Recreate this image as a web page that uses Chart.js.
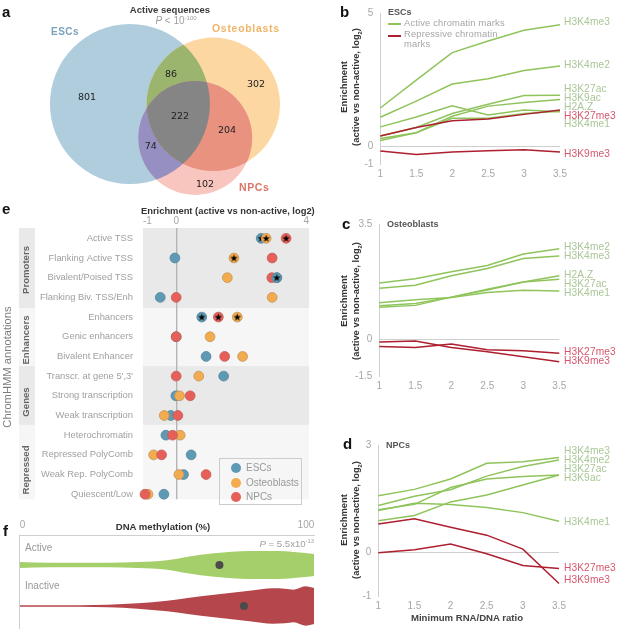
<!DOCTYPE html>
<html>
<head>
<meta charset="utf-8">
<title>Active sequences and chromatin enrichment</title>
<script src="https://cdn.jsdelivr.net/npm/chart.js@4"></script>
<style>
  html, body { margin: 0; padding: 0; background: #fff; }
  body { position: relative; width: 617px; height: 630px; overflow: hidden; font-family: "Liberation Sans", sans-serif; }
  canvas { position: absolute; }
  .lbl { position: absolute; white-space: nowrap; line-height: 1; }
  sup, sub { font-size: 60%; line-height: 0; }
  .legend-e { position: absolute; left: 219px; top: 458px; width: 83px; height: 47px; border: 1px solid #ccc; box-sizing: border-box; }
</style>
</head>
<body>
<script>
// ---- data: venn (a)
const vennSets = ['ESCs', 'Osteoblasts', 'NPCs'];
const vennX = [40.6, 66.65, 61.0];
const vennY = [32.5, 32.6, 43.1];
const vennR = [25.0, 20.85, 17.8];
const vennCounts = ['801', '86', '302', '222', '204', '74', '102'];

// ---- data: line panels (b, c, d)
const ratioLabels = ['1', '1.5', '2', '2.5', '3', '3.5'];

const escK4me3 = [1.43, 2.48, 3.51, 3.95, 4.35, 4.56];
const escK4me2 = [1.08, 1.69, 2.33, 2.53, 2.84, 3.01];
const escK27ac = [0.38, 0.70, 1.22, 1.57, 1.90, 1.91];
const escK9ac = [0.28, 0.50, 1.12, 1.50, 1.64, 1.75];
const escH2AZ = [0.72, 1.09, 1.51, 1.17, 1.35, 1.29];
const escK4me1 = [0.21, 0.50, 1.04, 1.04, 1.22, 1.31];
const escK27me3 = [0.38, 0.70, 0.95, 1.02, 1.19, 1.35];
const escK9me3 = [-0.19, -0.32, -0.22, -0.18, -0.14, -0.22];

const ostK4me2 = [1.71, 1.84, 2.05, 2.24, 2.59, 2.75];
const ostK4me3 = [1.55, 1.64, 1.93, 2.15, 2.45, 2.53];
const ostH2AZ = [1.02, 1.09, 1.28, 1.52, 1.74, 1.93];
const ostK27ac = [0.97, 1.03, 1.28, 1.50, 1.74, 1.82];
const ostK4me1 = [1.11, 1.20, 1.27, 1.42, 1.49, 1.47];
const ostK27me3 = [-0.22, -0.25, -0.14, -0.32, -0.35, -0.42];
const ostK9me3 = [-0.08, -0.05, -0.25, -0.38, -0.53, -0.68];

const npcK4me3 = [1.58, 1.76, 2.05, 2.49, 2.53, 2.65];
const npcK4me2 = [1.31, 1.57, 1.75, 2.13, 2.40, 2.58];
const npcK27ac = [1.19, 1.34, 1.81, 2.05, 2.12, 2.16];
const npcK9ac = [0.88, 1.03, 1.41, 1.60, 1.88, 2.16];
const npcK4me1 = [1.17, 1.37, 1.34, 1.25, 1.11, 0.87];
const npcK27me3 = [-0.01, 0.07, 0.23, -0.04, -0.37, -0.45];
const npcK9me3 = [0.79, 0.94, 0.70, 0.48, 0.09, -0.87];

// ---- data: ChromHMM dots (e), one value per row
const rowLabels = ['Active TSS', 'Flanking Active TSS', 'Bivalent/Poised TSS', 'Flanking Biv. TSS/Enh',
  'Enhancers', 'Genic enhancers', 'Bivalent Enhancer', "Transcr. at gene 5',3'", 'Strong transcription',
  'Weak transcription', 'Heterochromatin', 'Repressed PolyComb', 'Weak Rep. PolyComb', 'Quiescent/Low'];
const escEnrich = [2.56, -0.04, 3.03, -0.48, 0.77, 0, 0.90, 1.43, -0.01, -0.16, -0.31, 0.45, 0.22, -0.37];
const ostEnrich = [2.71, 1.74, 1.54, 2.89, 1.84, 1.02, 2.00, 0.68, 0.10, -0.36, 0.12, -0.68, 0.08, -0.85];
const npcEnrich = [3.31, 2.89, 2.88, 0, 1.27, 0, 1.46, 0, 0.42, 0.05, -0.11, -0.44, 0.90, -0.94];
const escStarRows = [0, 4];
const ostStarRows = [0, 1, 4];
const npcStarRows = [0, 4];
const escTopRows = [2];
const enrichTicks = [-1, 0, 4];

// ---- data: DNA methylation violins (f)
const methylPct = [0, 10, 20, 30, 40, 50, 57, 66, 78, 86, 90, 93, 97, 100];
const activeHalf = [3, 2.3, 2.2, 2.3, 3, 4.7, 8.3, 11.7, 14, 14, 13.7, 13, 12, 11];
const inactiveHalf = [0.7, 0.7, 0.8, 1.3, 2.7, 5.3, 8, 11.3, 15.3, 17.7, 17.3, 16.3, 19.7, 18];
const activeMean = 67.8;
const inactiveMean = 76.1;

// ---- colours
const GREEN = '#8fc45c';
const RED = '#ae1f30';
const GREEN_TXT = '#a9c696';
const RED_TXT = '#d5566c';
const TICK = '#a6a6a6';
const AXIS = '#cfcfcf';
const FONT = '"Liberation Sans", sans-serif';

Chart.defaults.font.family = FONT;
Chart.defaults.animation = false;
Chart.defaults.responsive = false;
Chart.defaults.layout.autoPadding = false;
Chart.defaults.plugins.legend.display = false;
Chart.defaults.plugins.tooltip.enabled = false;

function addCanvas(left, top, w, h) {
  const c = document.createElement('canvas');
  c.width = w;
  c.height = h;
  c.style.left = left + 'px';
  c.style.top = top + 'px';
  c.style.width = w + 'px';
  c.style.height = h + 'px';
  document.body.appendChild(c);
  return c;
}

// text helper, x/y is the anchor point
function label(html, x, y, o = {}) {
  const d = document.createElement('div');
  d.className = 'lbl';
  d.innerHTML = html;
  d.style.left = x + 'px';
  d.style.top = y + 'px';
  d.style.fontSize = (o.size || 10) + 'px';
  d.style.color = o.color || '#444';
  if (o.bold) d.style.fontWeight = 'bold';
  if (o.family) d.style.fontFamily = o.family;
  if (o.spacing) d.style.letterSpacing = o.spacing + 'px';
  const ax = o.align === 'center' ? '-50%' : o.align === 'right' ? '-100%' : '0';
  d.style.transform = `translate(${ax},-50%)` + (o.rotate ? ' rotate(-90deg)' : '');
  d.style.zIndex = 5;
  document.body.appendChild(d);
  return d;
}

// ---- panel a
const regionColors = [
  { sets: [0, 1], color: '#9bb56f' },
  { sets: [0, 2], color: '#9590c1' },
  { sets: [1, 2], color: '#e8927f' },
  { sets: [0, 1, 2], color: '#858585' }
];
const vennOverlaps = {
  id: 'vennOverlaps',
  afterDatasetsDraw(chart) {
    const ctx = chart.ctx;
    const pts = chart.getDatasetMeta(0).data;
    regionColors.forEach(reg => {
      ctx.save();
      reg.sets.forEach(i => {
        ctx.beginPath();
        ctx.arc(pts[i].x, pts[i].y, pts[i].options.radius, 0, Math.PI * 2);
        ctx.clip();
      });
      ctx.fillStyle = reg.color;
      ctx.fillRect(0, 0, chart.width, chart.height);
      ctx.restore();
    });
  }
};
new Chart(addCanvas(0, 0, 320, 200), {
  type: 'bubble',
  data: {
    datasets: [{
      label: 'Active sequences',
      data: vennSets.map((s, i) => ({ x: vennX[i], y: vennY[i], r: vennR[i] * 3.2 })),
      backgroundColor: ['#afcddd', '#fdd7a1', '#f8c6bf'],
      borderWidth: 0,
      clip: false
    }]
  },
  options: {
    scales: {
      x: { display: false, min: 0, max: 100 },
      y: { display: false, min: 0, max: 62.5, reverse: true }
    }
  },
  plugins: [vennOverlaps]
});

// ---- panels b, c, d
function linePanel(o) {
  const datasets = o.series.map(s => ({
    label: s.name,
    data: s.values,
    borderColor: s.red ? RED : GREEN,
    borderWidth: 1.5,
    pointRadius: 0,
    tension: 0,
    order: s.red ? 0 : 1
  }));
  new Chart(addCanvas(o.left, o.top, o.w, o.h), {
    type: 'line',
    data: { labels: ratioLabels, datasets },
    options: {
      layout: { padding: { top: o.padTop, right: o.padRight, bottom: o.padBottom } },
      scales: {
        x: {
          grid: { display: false, drawTicks: false },
          border: { display: false },
          afterFit(s) { s.height = 16; },
          ticks: { color: TICK, font: { size: 10 }, padding: 4, maxRotation: 0 }
        },
        y: {
          min: o.yMin,
          max: o.yMax,
          afterFit(s) { s.width = o.axisX; },
          afterBuildTicks(s) { s.ticks = o.tickVals.map(v => ({ value: v })); },
          grid: {
            drawTicks: false,
            color: c => (c.tick && c.tick.value === 0 ? AXIS : 'transparent')
          },
          border: { color: AXIS },
          ticks: {
            color: TICK,
            font: { size: 10 },
            padding: 7,
            callback: v => o.tickText[o.tickVals.indexOf(v)]
          }
        }
      }
    }
  });
  o.series.forEach(s => {
    label(s.name, 564, s.labelY, { color: s.red ? RED_TXT : GREEN_TXT, size: 10.2, spacing: 0.1 });
  });
}

linePanel({
  left: 330, top: 0, w: 287, h: 190,
  axisX: 50.3, padTop: 12.7, padRight: 57, padBottom: 10,
  yMin: -0.675, yMax: 5,
  tickVals: [-0.675, 0, 5], tickText: ['-1', '0', '5'],
  series: [
    { name: 'H3K4me3', values: escK4me3, labelY: 22 },
    { name: 'H3K4me2', values: escK4me2, labelY: 64.7 },
    { name: 'H3K27ac', values: escK27ac, labelY: 89 },
    { name: 'H3K9ac', values: escK9ac, labelY: 98 },
    { name: 'H2A.Z', values: escH2AZ, labelY: 106.7 },
    { name: 'H3K27me3', values: escK27me3, labelY: 115.5, red: true },
    { name: 'H3K4me1', values: escK4me1, labelY: 124 },
    { name: 'H3K9me3', values: escK9me3, labelY: 154, red: true }
  ]
});

linePanel({
  left: 330, top: 210, w: 287, h: 190,
  axisX: 49.3, padTop: 14, padRight: 57.7, padBottom: 7.3,
  yMin: -1.135, yMax: 3.5,
  tickVals: [-1.135, 0, 3.5], tickText: ['-1.5', '0', '3.5'],
  series: [
    { name: 'H3K4me2', values: ostK4me2, labelY: 246.7 },
    { name: 'H3K4me3', values: ostK4me3, labelY: 255.7 },
    { name: 'H2A.Z', values: ostH2AZ, labelY: 274.7 },
    { name: 'H3K27ac', values: ostK27ac, labelY: 283.7 },
    { name: 'H3K4me1', values: ostK4me1, labelY: 292.7 },
    { name: 'H3K27me3', values: ostK27me3, labelY: 352.3, red: true },
    { name: 'H3K9me3', values: ostK9me3, labelY: 361.3, red: true }
  ]
});

linePanel({
  left: 330, top: 410, w: 287, h: 220,
  axisX: 48.3, padTop: 35, padRight: 58, padBottom: 18,
  yMin: -1.22, yMax: 3,
  tickVals: [-1.22, 0, 3], tickText: ['-1', '0', '3'],
  series: [
    { name: 'H3K4me3', values: npcK4me3, labelY: 451.3 },
    { name: 'H3K4me2', values: npcK4me2, labelY: 460.3 },
    { name: 'H3K27ac', values: npcK27ac, labelY: 469.3 },
    { name: 'H3K9ac', values: npcK9ac, labelY: 478.3 },
    { name: 'H3K4me1', values: npcK4me1, labelY: 521.7 },
    { name: 'H3K27me3', values: npcK27me3, labelY: 568.3, red: true },
    { name: 'H3K9me3', values: npcK9me3, labelY: 580.3, red: true }
  ]
});

// ---- panel e
const starImg = document.createElement('canvas');
starImg.width = 9;
starImg.height = 9;
(function () {
  const g = starImg.getContext('2d');
  g.beginPath();
  for (let i = 0; i < 10; i++) {
    const r = i % 2 ? 1.6 : 4;
    const a = -Math.PI / 2 + i * Math.PI / 5;
    g.lineTo(4.5 + r * Math.cos(a), 4.7 + r * Math.sin(a));
  }
  g.closePath();
  g.fillStyle = '#000';
  g.fill();
})();

const groupBands = [
  { from: -0.525, to: 3.55, color: '#e9e9e9' },
  { from: 3.55, to: 6.49, color: '#f6f6f6' },
  { from: 6.49, to: 9.48, color: '#e9e9e9' },
  { from: 9.48, to: 13.26, color: '#f6f6f6' }
];
const bandPlugin = {
  id: 'bandPlugin',
  beforeDraw(chart) {
    const { ctx, chartArea, scales } = chart;
    groupBands.forEach(b => {
      const top = scales.y.getPixelForValue(b.from);
      const bottom = scales.y.getPixelForValue(b.to);
      ctx.fillStyle = b.color;
      ctx.fillRect(chartArea.left, top, chartArea.right - chartArea.left, bottom - top);
      ctx.fillRect(19, top, 16, bottom - top);
    });
  }
};

function dotSet(name, values, rows, fill, line, order) {
  return {
    label: name,
    data: rows.map(i => ({ x: values[i], y: i })),
    backgroundColor: fill,
    borderColor: line,
    borderWidth: 0.8,
    pointRadius: 4.9,
    showLine: false,
    clip: false,
    order
  };
}
function starSet(name, values, rows, order) {
  return {
    label: name + ' significant',
    data: rows.map(i => ({ x: values[i], y: i })),
    pointStyle: starImg,
    showLine: false,
    clip: false,
    order
  };
}
const ESC_FILL = '#5f9ab4', ESC_LINE = '#55879b';
const OST_FILL = '#f2ab4f', OST_LINE = '#c4965a';
const NPC_FILL = '#e65f58', NPC_LINE = '#c2605b';
const allRows = rowLabels.map((r, i) => i);

new Chart(addCanvas(0, 200, 330, 315), {
  type: 'scatter',
  data: {
    datasets: [
      dotSet('ESCs', escEnrich, allRows, ESC_FILL, ESC_LINE, 9),
      starSet('ESCs', escEnrich, escStarRows, 8),
      dotSet('Osteoblasts', ostEnrich, allRows, OST_FILL, OST_LINE, 7),
      starSet('Osteoblasts', ostEnrich, ostStarRows, 6),
      dotSet('NPCs', npcEnrich, allRows, NPC_FILL, NPC_LINE, 5),
      starSet('NPCs', npcEnrich, npcStarRows, 4),
      // the Bivalent/Poised TSS ESC dot sits on top of the NPC one
      dotSet('ESCs top', escEnrich, escTopRows, ESC_FILL, ESC_LINE, 3),
      starSet('ESCs top', escEnrich, escTopRows, 2)
    ]
  },
  options: {
    layout: { padding: { right: 21, bottom: 6 } },
    scales: {
      x: {
        position: 'top',
        min: -1,
        max: 4,
        afterFit(s) { s.height = 28; },
        afterBuildTicks(s) { s.ticks = enrichTicks.map(v => ({ value: v })); },
        grid: {
          drawTicks: false,
          lineWidth: 1.4,
          color: c => (c.tick && c.tick.value === 0 ? '#b5b5b5' : 'transparent')
        },
        border: { display: false },
        ticks: { color: TICK, font: { size: 10 }, padding: 1, autoSkip: false, maxRotation: 0, align: 'inner' }
      },
      y: {
        reverse: true,
        min: -0.525,
        max: 13.26,
        afterFit(s) { s.width = 143; },
        afterBuildTicks(s) { s.ticks = rowLabels.map((r, i) => ({ value: i })); },
        grid: { display: false, drawTicks: false },
        border: { display: false },
        ticks: {
          color: '#a0a0a0',
          font: { size: 9.4 },
          padding: 10,
          autoSkip: false,
          callback: v => rowLabels[v]
        }
      }
    }
  },
  plugins: [bandPlugin]
});

// ---- panel f
function violinBand(name, center, half, color) {
  const edge = sign => methylPct.map((p, i) => ({ x: p, y: center + sign * half[i] }));
  return [
    { label: name + ' upper', data: edge(1), borderWidth: 0, pointRadius: 0, cubicInterpolationMode: 'monotone', fill: false },
    { label: name, data: edge(-1), borderWidth: 0, pointRadius: 0, cubicInterpolationMode: 'monotone', fill: '-1', backgroundColor: color }
  ];
}
const ACTIVE_CENTER = 63;
const INACTIVE_CENTER = 22;
new Chart(addCanvas(0, 515, 330, 115), {
  type: 'line',
  data: {
    datasets: [
      ...violinBand('Active', ACTIVE_CENTER, activeHalf, '#a5cf6b'),
      ...violinBand('Inactive', INACTIVE_CENTER, inactiveHalf, '#b5474c'),
      {
        label: 'Mean',
        data: [{ x: activeMean, y: ACTIVE_CENTER }, { x: inactiveMean, y: INACTIVE_CENTER }],
        showLine: false,
        pointRadius: 4,
        backgroundColor: '#4b4b4b',
        borderWidth: 0,
        order: -1
      }
    ]
  },
  options: {
    layout: { padding: { right: 15.7, bottom: 2 } },
    scales: {
      x: {
        type: 'linear',
        position: 'top',
        min: 0,
        max: 100,
        afterFit(s) { s.height = 20.7; },
        afterBuildTicks(s) { s.ticks = [{ value: 0 }, { value: 100 }]; },
        grid: { display: false, drawTicks: false },
        border: { color: AXIS },
        ticks: { color: TICK, font: { size: 10 }, padding: 4, maxRotation: 0, align: 'inner' }
      },
      y: {
        min: 0,
        max: 92.3,
        afterFit(s) { s.width = 19.7; },
        grid: { display: false, drawTicks: false },
        border: { color: AXIS },
        ticks: { display: false }
      }
    }
  }
});

// ---- text
const panelLetters = [['a', 2, 11], ['b', 340, 11], ['c', 342, 223], ['d', 343, 443], ['e', 2, 208], ['f', 3, 530]];
panelLetters.forEach(p => label(p[0], p[1], p[2], { bold: true, size: 15, color: '#111' }));

label('Active sequences', 170, 10, { bold: true, align: 'center', size: 9.5, color: '#3a3a3a' });
label('<i>P</i> &lt; 10<sup>-100</sup>', 176, 21, { align: 'center', size: 10, color: '#a0a0a0' });
label('ESCs', 51, 32, { bold: true, size: 10, color: '#7aa3bb', spacing: 0.5 });
label('Osteoblasts', 212, 28, { bold: true, size: 10.5, color: '#f0b468', spacing: 0.7 });
label('NPCs', 239, 187, { bold: true, size: 10.5, color: '#dc7468', spacing: 0.6 });

const vennTextX = [87, 171, 256, 180, 227, 150.7, 205];
const vennTextY = [96.7, 74, 84, 115.7, 130, 146, 183.7];
vennCounts.forEach((n, i) => label(n, vennTextX[i], vennTextY[i], {
  align: 'center', family: '"DejaVu Sans"', size: 9.5, color: '#222'
}));

const yTitleCenters = [87, 300.7, 520];
yTitleCenters.forEach(cy => {
  label('Enrichment', 344, cy, { bold: true, size: 9.4, color: '#333', align: 'center', rotate: true });
  label('(active vs non-active, log<sub>2</sub>)', 356, cy, { bold: true, size: 9.4, color: '#333', align: 'center', rotate: true });
});

label('ESCs', 388, 12, { bold: true, size: 9, color: '#555' });
label('Osteoblasts', 387, 224, { bold: true, size: 9, color: '#555' });
label('NPCs', 386, 444.7, { bold: true, size: 9, color: '#555' });
label('Active chromatin marks', 404, 22.7, { size: 9.4, color: '#a6a6a6', spacing: 0.15 });
label('Repressive chromatin', 404, 34, { size: 9.4, color: '#a6a6a6', spacing: 0.15 });
label('marks', 404, 44, { size: 9.4, color: '#a6a6a6', spacing: 0.15 });
label('Minimum RNA/DNA ratio', 467, 618, { bold: true, size: 9.6, color: '#444', align: 'center' });

// line legend swatches in panel b
[[23, GREEN], [35, RED]].forEach(s => {
  const d = document.createElement('div');
  d.style.cssText = `position:absolute;left:388px;top:${s[0]}px;width:13px;height:2px;background:${s[1]};z-index:5`;
  document.body.appendChild(d);
});

label('Enrichment (active vs non-active, log2)', 141, 212, { bold: true, size: 9.37, color: '#333' });
label('ChromHMM annotations', 8, 367, { size: 11.2, color: '#7d7d7d', align: 'center', rotate: true });
label('Promoters', 26, 270, { bold: true, size: 9.6, color: '#666', align: 'center', rotate: true });
label('Enhancers', 26, 340, { bold: true, size: 9.6, color: '#666', align: 'center', rotate: true });
label('Genes', 26, 401.7, { bold: true, size: 9.6, color: '#666', align: 'center', rotate: true });
label('Repressed', 26, 470, { bold: true, size: 9.6, color: '#666', align: 'center', rotate: true });

// dot legend in panel e
const legendBox = document.createElement('div');
legendBox.className = 'legend-e';
legendBox.style.zIndex = 4;
document.body.appendChild(legendBox);
const legendRows = [['ESCs', ESC_FILL, 468.3], ['Osteoblasts', OST_FILL, 482.7], ['NPCs', NPC_FILL, 497]];
legendRows.forEach(r => {
  const dot = document.createElement('div');
  dot.style.cssText = `position:absolute;left:230.5px;top:${r[2] - 5}px;width:10px;height:10px;border-radius:50%;background:${r[1]};z-index:5`;
  document.body.appendChild(dot);
  label(r[0], 246, r[2], { size: 10, color: '#999' });
});

label('Active', 25, 547.7, { size: 10, color: '#999' });
label('Inactive', 25, 586, { size: 10, color: '#999' });
label('DNA methylation (%)', 163, 526.7, { bold: true, size: 9.6, color: '#333', align: 'center' });
label('<i>P</i> = 5.5x10<sup>-13</sup>', 314, 544, { size: 9.6, color: '#a0a0a0', align: 'right' });
</script>
</body>
</html>
